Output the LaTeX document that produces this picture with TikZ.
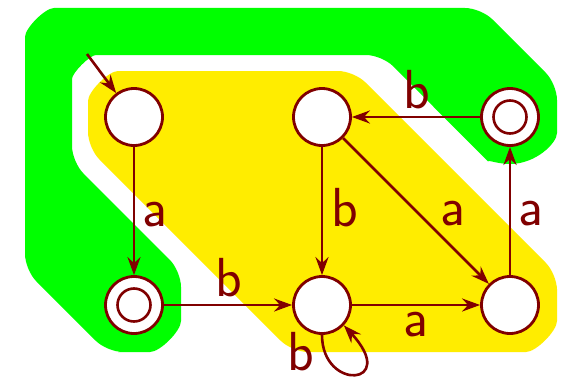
\documentclass[tikz,border=0pt]{standalone}
\usetikzlibrary{arrows.meta}
\definecolor{dred}{RGB}{128,0,0}
\definecolor{hullgreen}{RGB}{0,255,0}
\definecolor{hullyellow}{RGB}{255,237,0}
\begin{document}
\begin{tikzpicture}[x=1pt,y=1pt,
  statenode/.style={circle,draw=dred,line width=2.8pt,fill=white,minimum size=57pt,inner sep=0pt},
  accstate/.style={statenode,path picture={\draw[dred,line width=2.6pt] (path picture bounding box.center) circle[radius=16.5pt];}},
  trans/.style={draw=dred,line width=2.6pt,-{Stealth[length=18pt,width=13pt,inset=6pt]}},
  lbl/.style={text=dred,font=\fontsize{55}{60}\selectfont\sffamily,inner sep=0pt}]
\useasboundingbox (0,0) rectangle (565,376);
\fill[white] (0,0) rectangle (565,376);
% green region
\fill[hullgreen, rounded corners=16pt] (181,71) arc[start angle=0,end angle=-90,radius=47pt]
  -- (107,24) -- (25,106) -- (25,323) arc[start angle=180,end angle=90,radius=45pt]
  -- (481,368) -- (557,292) -- (557,259) arc[start angle=0,end angle=-135,radius=47pt]
  -- (382,321) -- (112,321) arc[start angle=90,end angle=180,radius=40pt]
  -- (72,214) -- (181,105) -- cycle;
% yellow region
\fill[hullyellow, rounded corners=16pt] (88,259) arc[start angle=180,end angle=90,radius=46pt]
  -- (354,305) -- (557,102) -- (557,71) arc[start angle=0,end angle=-90,radius=47pt]
  -- (292,24) -- (88,228) -- cycle;
% states
\node[statenode] (n1) at (134,259) {};
\node[statenode] (n2) at (322,259) {};
\node[accstate]  (n3) at (510,259) {};
\node[accstate]  (n4) at (134,71) {};
\node[statenode] (n5) at (322,71) {};
\node[statenode] (n6) at (510,71) {};
\coordinate (init) at (87,322);
% transitions
\draw[trans] (init) -- (n1);
\draw[trans] (n1) -- node[lbl,xshift=21pt,yshift=-3.5pt]{a} (n4);
\draw[trans] (n3) -- node[lbl,xshift=1pt,yshift=27pt]{b} (n2);
\draw[trans] (n2) -- node[lbl,xshift=23pt,yshift=3.5pt]{b} (n5);
\draw[trans] (n2) -- node[lbl,xshift=37pt,yshift=-3pt]{a} (n6);
\draw[trans] (n6) -- node[lbl,xshift=21pt,yshift=-2.5pt]{a} (n3);
\draw[trans] (n4) -- node[lbl,xshift=1pt,yshift=27pt]{b} (n5);
\draw[trans] (n5) -- node[lbl,yshift=-20pt]{a} (n6);
\draw[trans] (n5.south) node[lbl,xshift=-21pt,yshift=-17pt]{b} .. controls (322,-16) and (400,-10) .. (n5.-43);
\end{tikzpicture}
\end{document}
